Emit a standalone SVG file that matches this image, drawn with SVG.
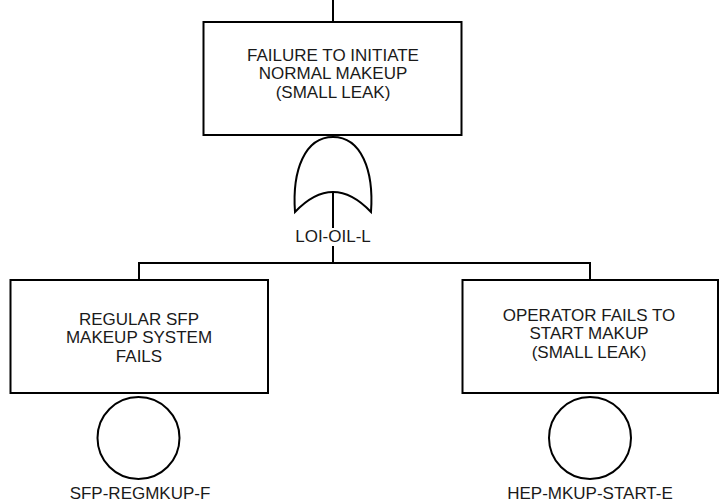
<svg xmlns="http://www.w3.org/2000/svg" width="724" height="503" viewBox="0 0 724 503">
<style>
.box{fill:#fff;stroke:#000;stroke-width:2}
.ln{fill:none;stroke:#000;stroke-width:2}
.t{font-family:"Liberation Sans",Arial,sans-serif;font-size:17px;fill:#1a1a1a;text-anchor:middle}
</style>
<rect width="724" height="503" fill="#fff"/>
<g id="connectors">
<path class="ln" d="M333,0 V22"/>
<path class="ln" d="M333,193 V228 M333,246 V263"/>
<path class="ln" d="M139,280 V263 H590 V280"/>
</g>
<g id="top-event">
<rect class="box" x="203.5" y="22" width="258" height="113"/>
<text class="t" x="333" y="61">FAILURE TO INITIATE</text>
<text class="t" x="333" y="79.3">NORMAL MAKEUP</text>
<text class="t" x="333" y="97.6">(SMALL LEAK)</text>
</g>
<g id="or-gate">
<path class="ln" d="M295,212 C292,170 305,137 333,137 C361,137 374,170 371,212 Q333,172 295,212 Z" fill="#fff"/>
<text class="t" x="333" y="242">LOI-OIL-L</text>
</g>
<g id="regular-sfp">
<rect class="box" x="10.5" y="280" width="257.5" height="113"/>
<text class="t" x="139" y="325">REGULAR SFP</text>
<text class="t" x="139" y="343.3">MAKEUP SYSTEM</text>
<text class="t" x="139" y="361.6">FAILS</text>
</g>
<g id="sfp-regmkup-f">
<circle class="ln" cx="138.5" cy="438" r="41"/>
<text class="t" x="140" y="499">SFP-REGMKUP-F</text>
</g>
<g id="operator-fails">
<rect class="box" x="462.5" y="280" width="255.5" height="113"/>
<text class="t" x="589" y="321">OPERATOR FAILS TO</text>
<text class="t" x="589" y="339.3">START MAKUP</text>
<text class="t" x="589" y="357.6">(SMALL LEAK)</text>
</g>
<g id="hep-mkup-start-e">
<circle class="ln" cx="590" cy="438" r="41"/>
<text class="t" x="590" y="499">HEP-MKUP-START-E</text>
</g>
</svg>
